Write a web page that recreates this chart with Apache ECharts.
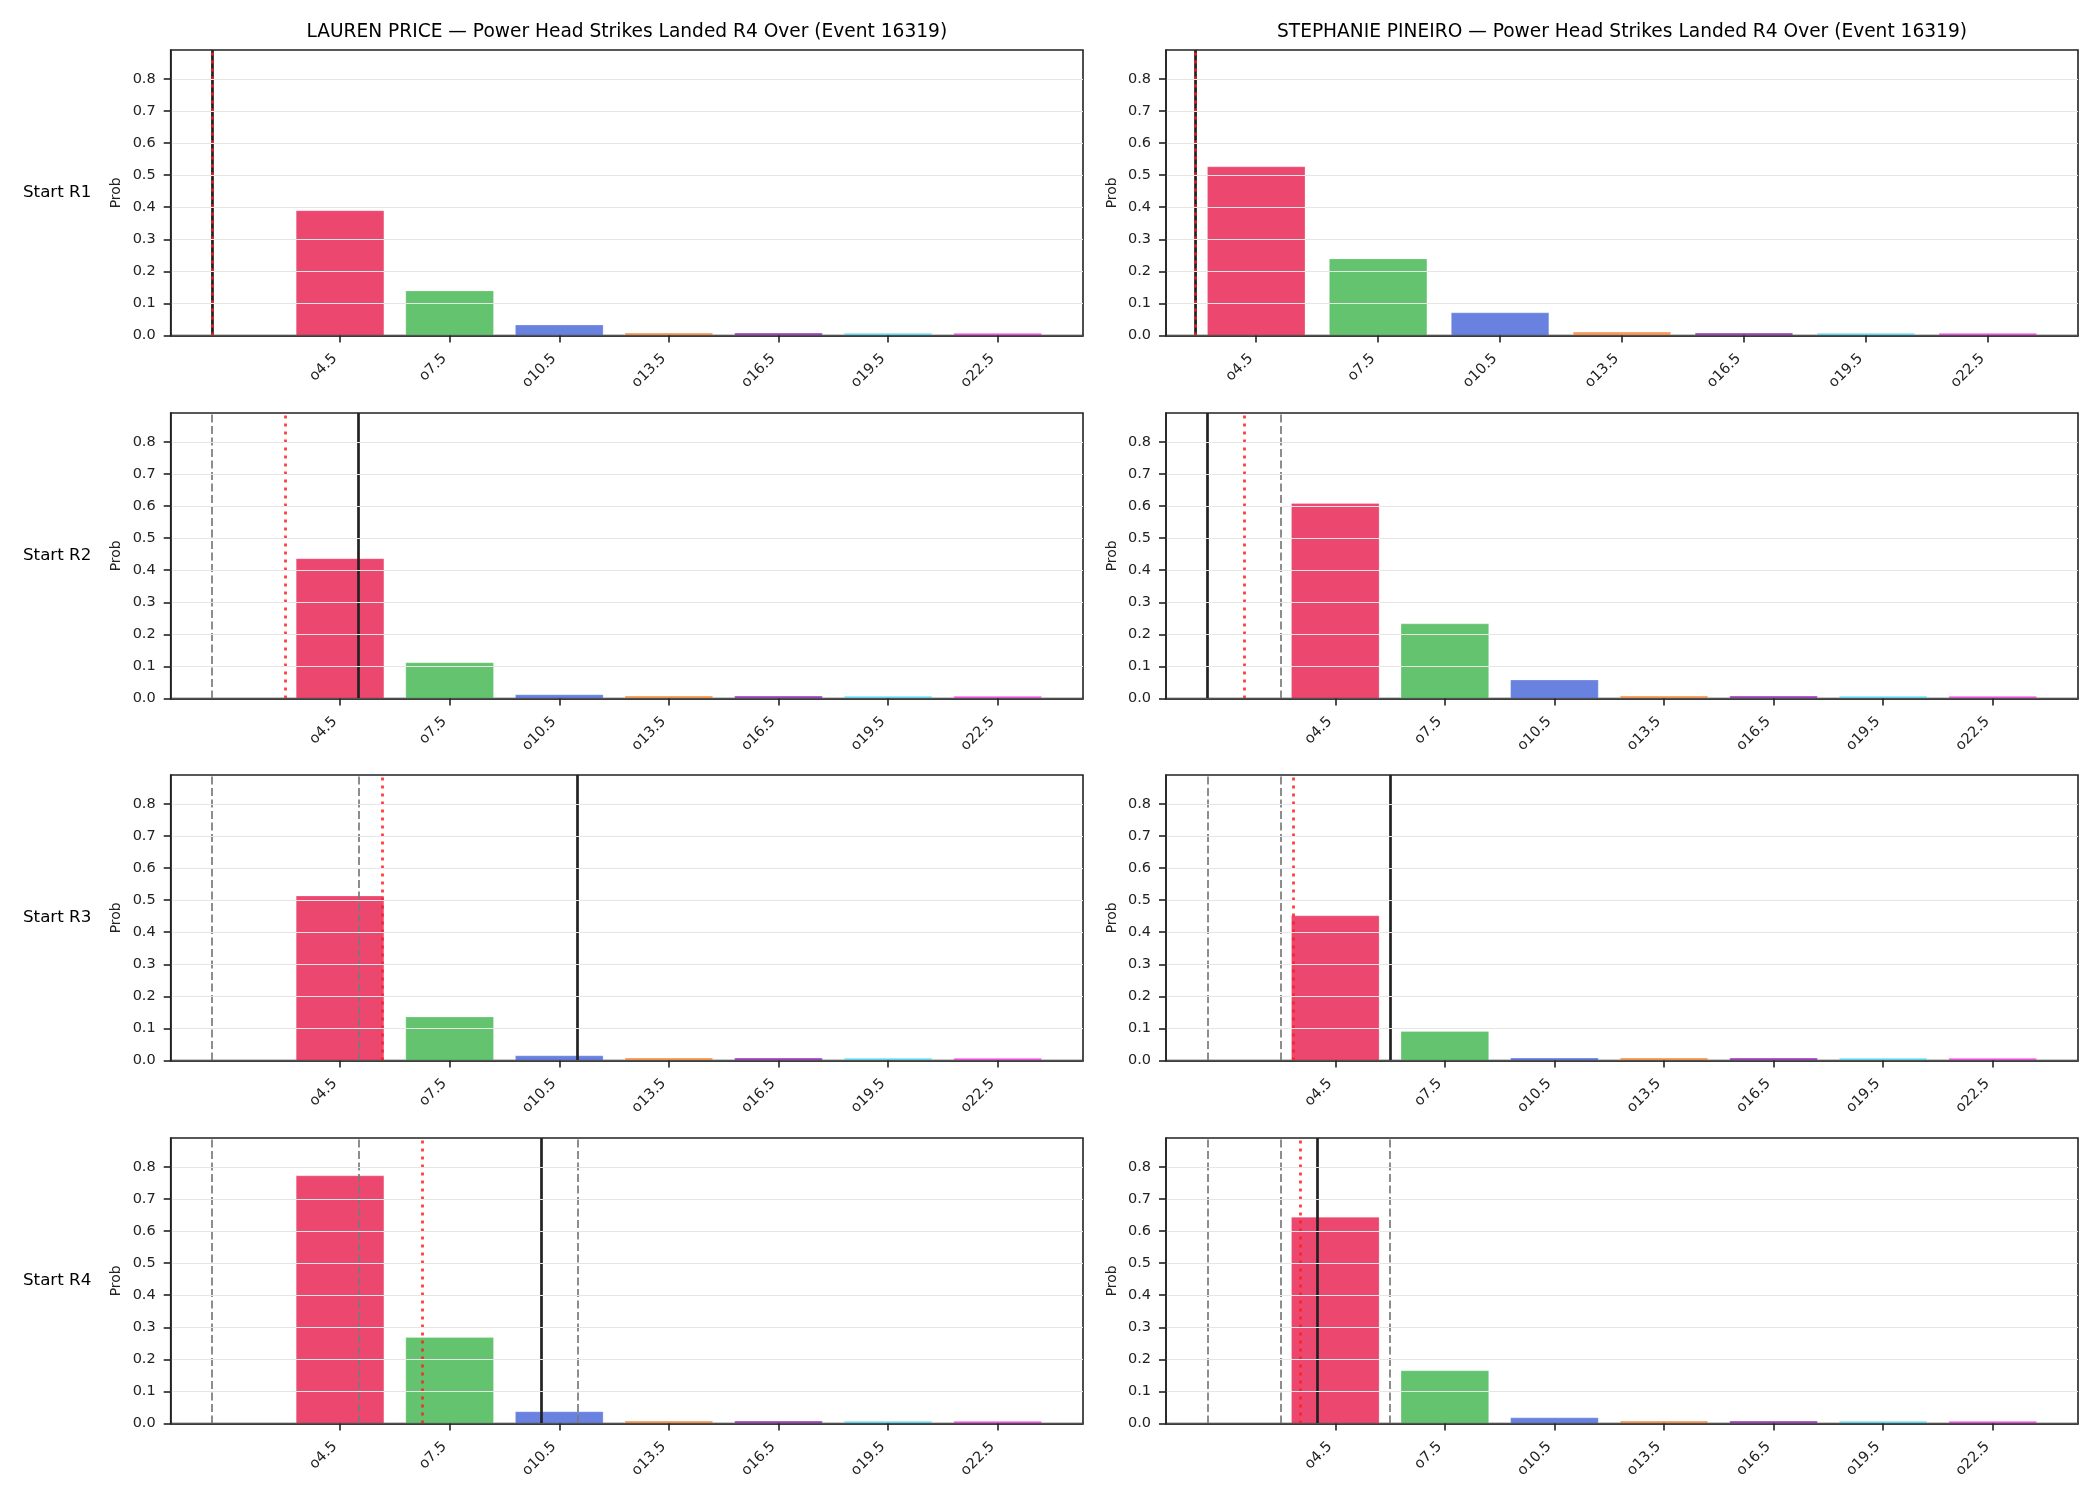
<!DOCTYPE html>
<html>
<head>
<meta charset="utf-8">
<script src="https://cdn.jsdelivr.net/npm/echarts@6/dist/echarts.min.js"></script>
<style>
  html, body { margin: 0; padding: 0; background: #fff; }
  #chart { width: 2100px; height: 1500px; }
</style>
</head>
<body>
<div id="chart"></div>
<script>
// ---- data ----
const lineLabels = ["o4.5", "o7.5", "o10.5", "o13.5", "o16.5", "o19.5", "o22.5"];
const lineValues = [4.5, 7.5, 10.5, 13.5, 16.5, 19.5, 22.5];
const barColors = ["#e6194b", "#3cb44b", "#4363d8", "#f58231", "#911eb4", "#42d4f4", "#f032e6"];
const fighters = ["LAUREN PRICE", "STEPHANIE PINEIRO"];
const titleSuffix = " — Power Head Strikes Landed R4 Over (Event 16319)";
const startRounds = ["Start R1", "Start R2", "Start R3", "Start R4"];
const yTicks = [0, 0.1, 0.2, 0.3, 0.4, 0.5, 0.6, 0.7, 0.8];

const priceProbs = [
    [0.389, 0.139, 0.033, 0.008, 0.008, 0.007, 0.007],
    [0.436, 0.112, 0.012, 0.008, 0.008, 0.007, 0.007],
    [0.513, 0.136, 0.015, 0.008, 0.008, 0.007, 0.007],
    [0.772, 0.268, 0.037, 0.008, 0.008, 0.007, 0.007],
];
const pineiroProbs = [
    [0.526, 0.239, 0.071, 0.011, 0.008, 0.007, 0.007],
    [0.608, 0.233, 0.058, 0.008, 0.008, 0.007, 0.007],
    [0.451, 0.091, 0.008, 0.008, 0.008, 0.007, 0.007],
    [0.643, 0.165, 0.018, 0.008, 0.008, 0.007, 0.007],
];
// grey dashed / red dotted / black solid reference lines
const priceQuantiles = [[1], [1], [1, 5], [1, 5, 11]];
const priceMean = [1, 3, 5.66, 6.75];
const priceCurrent = [1, 5, 11, 10];
const pineiroQuantiles = [[3], [3], [1, 3], [1, 3, 6]];
const pineiroMean = [3, 2, 3.36, 3.53];
const pineiroCurrent = [3, 1, 6, 4];

// ---- layout ----
const colLeft = [170.7, 1166];
const colWidth = [912.3, 912];
const rowTop = [50, 413, 775, 1138];
const panelH = 285.6;
const yMax = 0.89;
const barW = 2.4;
const xRange = [
    [[-0.135, 24.835], [2.28, 24.72]],
    [[-0.135, 24.835], [-0.135, 24.835]],
    [[-0.135, 24.835], [-0.135, 24.835]],
    [[-0.135, 24.835], [-0.135, 24.835]],
];
const FONT = "DejaVu Sans";
const INK = "#222";

const probs = [priceProbs, pineiroProbs];
const quantiles = [priceQuantiles, pineiroQuantiles];
const means = [priceMean, pineiroMean];
const currents = [priceCurrent, pineiroCurrent];

const grids = [], xAxes = [], yAxes = [], series = [], graphics = [];

const vline = (idx, values, z, lineStyle) => ({
    type: "line",
    xAxisIndex: idx,
    yAxisIndex: idx,
    data: [],
    z,
    silent: true,
    markLine: {
        silent: true,
        symbol: ["none", "none"],
        label: { show: false },
        emphasis: { disabled: true },
        animation: false,
        lineStyle,
        data: values.map(v => ({ xAxis: v })),
    },
});

for (let r = 0; r < 4; r++) {
    for (let c = 0; c < 2; c++) {
        const idx = grids.length;
        grids.push({
            left: colLeft[c],
            top: rowTop[r],
            width: colWidth[c],
            height: panelH,
            show: true,
            borderColor: INK,
            borderWidth: 1.6,
            backgroundColor: "transparent",
            outerBoundsMode: "none",
            containLabel: false,
        });
        xAxes.push({
            type: "value",
            gridIndex: idx,
            min: xRange[r][c][0],
            max: xRange[r][c][1],
            z: 6,
            axisLine: { show: true, onZero: false, lineStyle: { color: INK, width: 1.6 } },
            axisTick: { show: true, length: 7, customValues: lineValues, lineStyle: { color: INK, width: 1.6 } },
            axisLabel: {
                show: true,
                customValues: lineValues,
                rotate: 45,
                align: "right",
                verticalAlign: "bottom",
                margin: 26,
                fontFamily: FONT,
                fontSize: 14.5,
                color: INK,
                formatter: v => lineLabels[lineValues.indexOf(v)],
            },
            splitLine: { show: false },
        });
        yAxes.push({
            type: "value",
            gridIndex: idx,
            min: 0,
            max: yMax,
            interval: 0.1,
            z: 6,
            axisLine: { show: true, onZero: false, lineStyle: { color: INK, width: 1.6 } },
            axisTick: { show: true, length: 7, customValues: yTicks, lineStyle: { color: INK, width: 1.6 } },
            axisLabel: {
                show: true,
                customValues: yTicks,
                margin: 15,
                fontFamily: FONT,
                fontSize: 14.5,
                color: INK,
                formatter: v => v.toFixed(1),
            },
            splitLine: { show: true, lineStyle: { color: "#e6e6e6", width: 1.2 } },
        });
        const vals = probs[c][r];
        series.push({
            type: "custom",
            xAxisIndex: idx,
            yAxisIndex: idx,
            z: 2,
            silent: true,
            encode: { x: 0, y: 1 },
            data: lineValues.map((v, i) => [v, vals[i]]),
            renderItem: (params, api) => {
                const x = api.value(0);
                const y = api.value(1);
                const p0 = api.coord([x - barW / 2, y]);
                const p1 = api.coord([x + barW / 2, 0]);
                return {
                    type: "rect",
                    shape: { x: p0[0], y: p0[1], width: p1[0] - p0[0], height: p1[1] - p0[1] },
                    style: { fill: barColors[params.dataIndex], opacity: 0.8, stroke: "rgba(255,255,255,0.6)", lineWidth: 0.5 },
                };
            },
        });
        series.push(vline(idx, quantiles[c][r], 3, { color: "#7a7a7a", width: 1.7, type: [8, 3.5], opacity: 1 }));
        series.push(vline(idx, [currents[c][r]], 4, { color: INK, width: 2.7, type: "solid", opacity: 1 }));
        series.push(vline(idx, [means[c][r]], 5, { color: "rgba(255,30,30,0.85)", width: 2.8, type: [3, 5], opacity: 1 }));

        // Prob label
        graphics.push({
            type: "text",
            x: colLeft[c] - 54,
            y: rowTop[r] + panelH / 2,
            rotation: Math.PI / 2,
            style: {
                text: "Prob",
                fontFamily: FONT,
                fontSize: 14,
                fill: INK,
                align: "center",
                verticalAlign: "middle",
            },
        });
    }
    graphics.push({
        type: "text",
        x: 23,
        y: rowTop[r] + panelH / 2,
        style: {
            text: startRounds[r],
            fontFamily: FONT,
            fontSize: 16.7,
            fill: "#000",
            align: "left",
            verticalAlign: "middle",
        },
    });
}

fighters.forEach((name, c) => {
    graphics.push({
        type: "text",
        x: colLeft[c] + colWidth[c] / 2,
        y: 32,
        style: {
            text: name + titleSuffix,
            fontFamily: FONT,
            fontSize: 18.6,
            fill: "#000",
            align: "center",
            verticalAlign: "middle",
        },
    });
});

const chart = echarts.init(document.getElementById("chart"), null, { renderer: "canvas" });
chart.setOption({
    animation: false,
    backgroundColor: "#fff",
    grid: grids,
    xAxis: xAxes,
    yAxis: yAxes,
    series,
    graphic: graphics,
});
</script>
</body>
</html>
